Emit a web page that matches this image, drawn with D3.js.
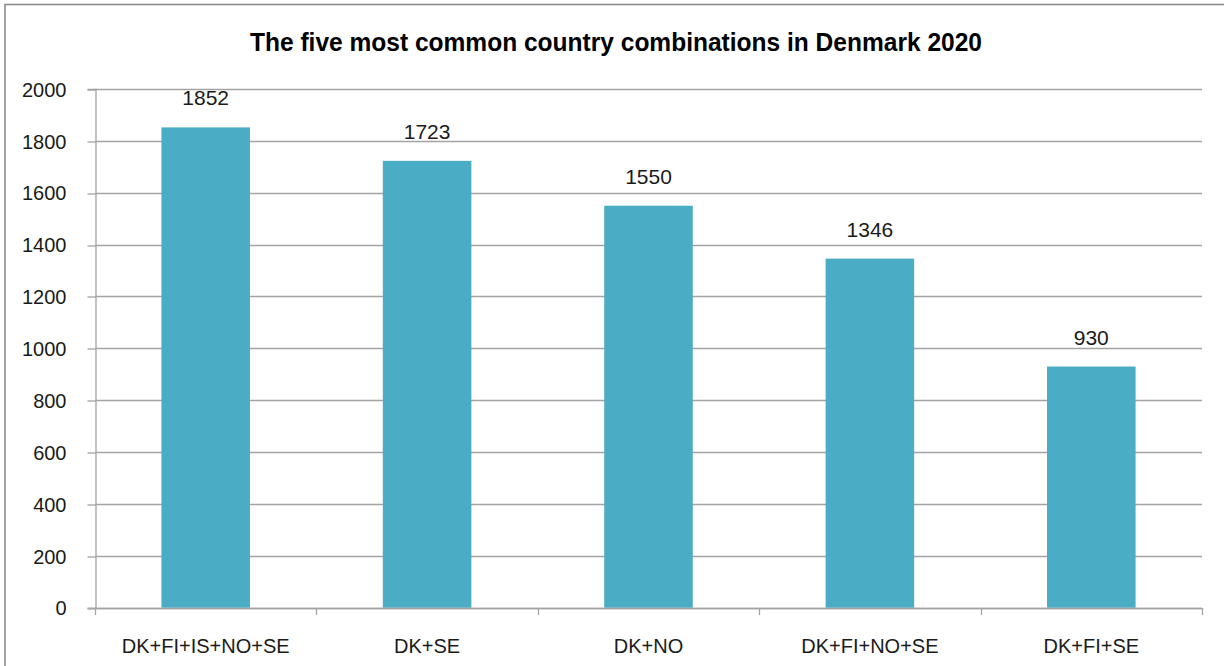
<!DOCTYPE html>
<html>
<head>
<meta charset="utf-8">
<script src="https://cdn.jsdelivr.net/npm/d3@7"></script>
<style>
  html, body { margin: 0; padding: 0; background: #ffffff; }
  svg { display: block; }
</style>
</head>
<body>
<svg id="chart" width="1224" height="666"></svg>
<script>
const categories = ["DK+FI+IS+NO+SE", "DK+SE", "DK+NO", "DK+FI+NO+SE", "DK+FI+SE"];
const values = [1852, 1723, 1550, 1346, 930];
const yTicks = [0, 200, 400, 600, 800, 1000, 1200, 1400, 1600, 1800, 2000];
const title = "The five most common country combinations in Denmark 2020";

(function () {
const svg = d3.select("#chart");
const pLeft = 95, pRight = 1202, pTop = 89, pBottom = 607.7;
const gridColor = "#a3a3a3";
const barColor = "#4bacc6";
const font = "'Liberation Sans', Arial, sans-serif";

// outer frame
svg.append("rect")
  .attr("x", 5).attr("y", 4.5)
  .attr("width", 1240).attr("height", 700)
  .attr("fill", "none").attr("stroke", "#8c8c8c").attr("stroke-width", 1.6);

// title
svg.append("text")
  .attr("x", 616).attr("y", 50.5)
  .attr("text-anchor", "middle")
  .attr("font-family", "'Liberation Sans Narrow', 'Arial Narrow', " + font)
  .attr("font-weight", "bold")
  .attr("font-size", 25)
  .attr("fill", "#000")
  .attr("textLength", 732)
  .attr("lengthAdjust", "spacingAndGlyphs")
  .text(title);

const x = d3.scaleBand().domain(categories).range([pLeft, pRight]).paddingInner(0).paddingOuter(0);
const y = d3.scaleLinear().domain([0, 2000]).range([pBottom, pTop]);

// gridlines
svg.append("g")
  .selectAll("line")
  .data(yTicks)
  .join("line")
  .attr("x1", pLeft).attr("x2", pRight)
  .attr("y1", d => Math.round(y(d)) + 0.5).attr("y2", d => Math.round(y(d)) + 0.5)
  .attr("stroke", gridColor).attr("stroke-width", 1.3);

// y axis
const yAxis = svg.append("g")
  .attr("transform", `translate(${pLeft + 0.5},0)`)
  .call(d3.axisLeft(y).tickValues(yTicks).tickSize(8).tickPadding(21).tickFormat(d3.format("d")));
yAxis.select(".domain").attr("stroke", gridColor).attr("stroke-width", 1.3);
yAxis.selectAll(".tick line").attr("stroke", gridColor).attr("stroke-width", 1.3)
  .attr("transform", d => `translate(0,${Math.round(y(d)) + 0.5 - y(d)})`);
yAxis.selectAll(".tick text")
  .attr("font-family", font).attr("font-size", 20).attr("fill", "#1a1a1a")
  .attr("dy", "0.36em");

// bars
svg.append("g")
  .selectAll("rect")
  .data(values)
  .join("rect")
  .attr("x", (d, i) => x(categories[i]) + x.bandwidth() * 0.3)
  .attr("width", x.bandwidth() * 0.4)
  .attr("y", d => y(d))
  .attr("height", d => y(0) - y(d))
  .attr("fill", barColor);

// x axis
const xAxis = svg.append("g")
  .attr("transform", `translate(0,${Math.round(pBottom) + 0.5})`)
  .call(d3.axisBottom(x).tickSize(0).tickPadding(30));
xAxis.select(".domain").remove();
xAxis.selectAll(".tick text")
  .attr("font-family", font).attr("font-size", 20).attr("fill", "#1a1a1a");

svg.append("line")
  .attr("x1", pLeft).attr("x2", pRight)
  .attr("y1", Math.round(pBottom) + 0.5).attr("y2", Math.round(pBottom) + 0.5)
  .attr("stroke", gridColor).attr("stroke-width", 1.3);

const bounds = categories.map(c => x(c)).concat([pRight]);
svg.append("g")
  .selectAll("line")
  .data(bounds)
  .join("line")
  .attr("x1", d => Math.round(d) + 0.5).attr("x2", d => Math.round(d) + 0.5)
  .attr("y1", Math.round(pBottom)).attr("y2", Math.round(pBottom) + 7)
  .attr("stroke", gridColor).attr("stroke-width", 1.3);

// value labels
svg.append("g")
  .selectAll("text")
  .data(values)
  .join("text")
  .attr("x", (d, i) => x(categories[i]) + x.bandwidth() / 2)
  .attr("y", d => y(d) - 22)
  .attr("text-anchor", "middle")
  .attr("font-family", font).attr("font-size", 21).attr("fill", "#1a1a1a")
  .text(d => d);
})();
</script>
</body>
</html>
